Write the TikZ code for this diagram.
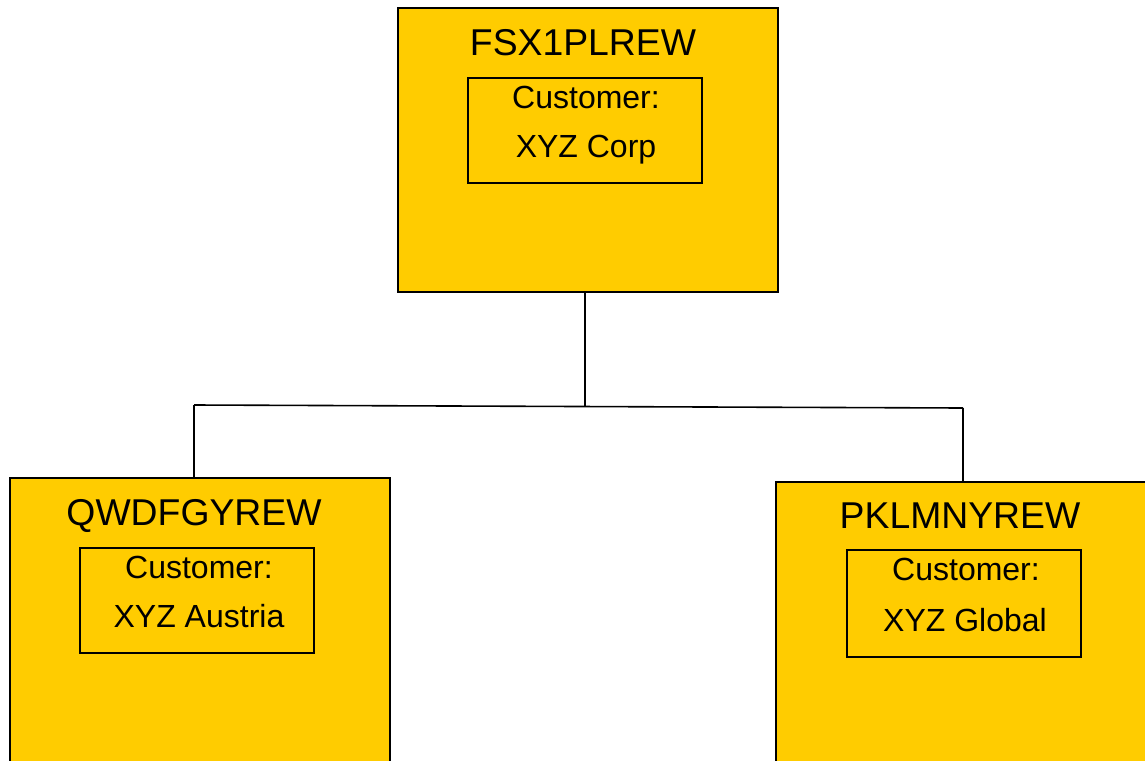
\documentclass[tikz,border=0pt]{standalone}
\usepackage{fontspec}
\setmainfont{Liberation Sans}
\usetikzlibrary{positioning}
\definecolor{unitfill}{HTML}{FFCC00}

\begin{document}
\begin{tikzpicture}[x=0.75pt,y=-0.75pt,line width=1.5pt,
            unit/.style={draw,fill=unitfill,minimum width=285pt,inner sep=0pt},
            cust/.style={draw,minimum width=175.5pt,minimum height=78.75pt,inner sep=0pt},
            title/.style={anchor=base,inner sep=0pt,font=\fontsize{28}{34}\selectfont},
            txt/.style={anchor=base,inner sep=0pt,font=\fontsize{24}{29}\selectfont}]
            \useasboundingbox(0,0)rectangle(1145,760);
            \clip(0,0)rectangle(1145,760);
            % parent unit
            \node[unit,minimum height=213pt](fsx)at(588,150){};
            \node[title](fsxT)at(583,55){FSX1PLREW};
            \node[cust](fsxC)at(585,130.5){};
            \node[txt](fsxL)at(586,108){Customer:};
            \node[txt](fsxN)at(586,157){XYZ Corp};
            % child units, cut by the page
            \node[unit,minimum height=241.5pt](qwd)at(200,639){};
            \node[title](qwdT)at(194,525){QWDFGYREW};
            \node[cust](qwdC)at(196.5,600.5){};
            \node[txt](qwdL)at(199,578){Customer:};
            \node[txt](qwdN)at(199,627){XYZ Austria};
            \node[unit,minimum height=238.5pt](pkl)at(966,640.5){};
            \node[title](pklT)at(960,528){PKLMNYREW};
            \node[cust,minimum height=80.25pt](pklC)at(963.5,603.5){};
            \node[txt](pklL)at(966,580){Customer:};
            \node[txt](pklN)at(965,631){XYZ Global};
            % tree lines
            \coordinate(busM)at(585,406.5);
            \coordinate(busL)at(194,405);
            \coordinate(busR)at(963,408);
            \draw[line width=1.2pt](busM|-fsx.south)--(busM);
            \draw[line width=1.2pt](busL)--(busR);
            \draw[line width=1.2pt](busL)--(busL|-qwd.north);
            \draw[line width=1.2pt](busR)--(busR|-pkl.north);
          \end{tikzpicture}
\end{document}
